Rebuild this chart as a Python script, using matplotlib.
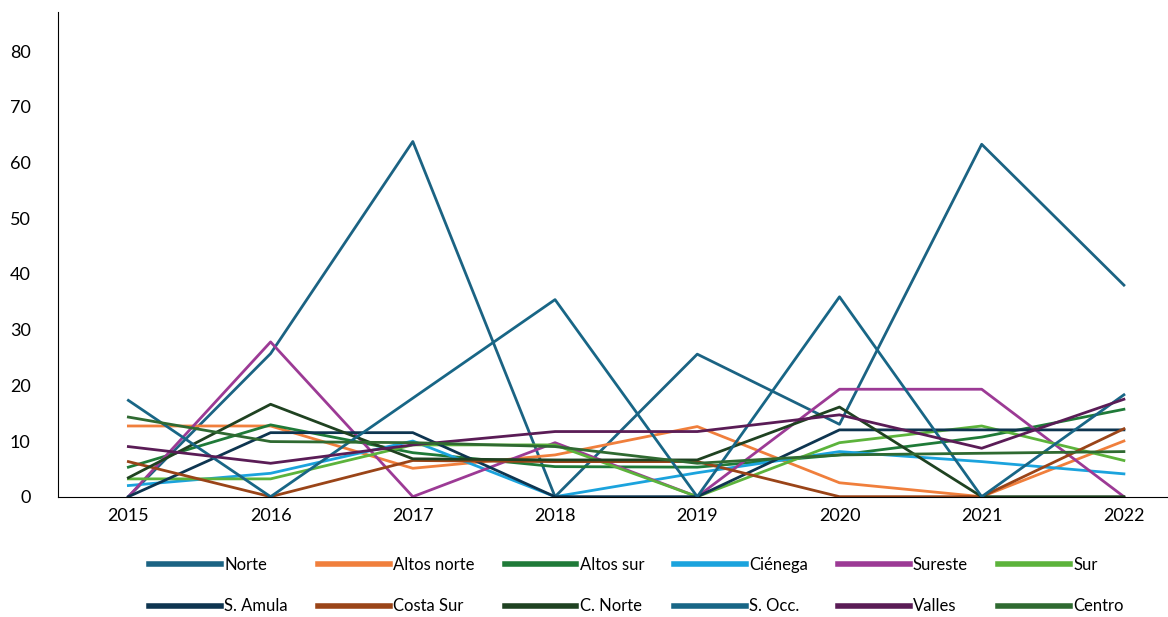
import matplotlib.pyplot as plt

years = [2015, 2016, 2017, 2018, 2019, 2020, 2021, 2022]

norte = [0, 25.7, 63.8, 0, 25.6, 13.0, 63.3, 38.0]
altos_norte = [12.7, 12.7, 5.1, 7.5, 12.6, 2.5, 0, 10.0]
altos_sur = [5.3, 12.9, 7.9, 5.4, 5.3, 7.5, 10.7, 15.7]
cienega = [2.0, 4.2, 10.0, 0, 4.3, 8.1, 6.3, 4.1]
sureste = [0, 27.8, 0, 9.7, 0, 19.3, 19.3, 0]
sur = [3.2, 3.2, 9.3, 9.3, 0, 9.7, 12.7, 6.5]
s_amula = [0, 11.5, 11.5, 0, 0, 12.0, 12.0, 12.0]
costa_sur = [6.3, 0, 6.5, 6.3, 6.3, 0, 0, 12.2]
c_norte = [3.4, 16.6, 6.8, 6.6, 6.6, 16.1, 0, 0]
s_occ = [17.3, 0, 17.7, 35.4, 0, 35.9, 0, 18.3]
valles = [9.0, 6.0, 9.3, 11.7, 11.7, 14.7, 8.7, 17.5]
centro = [14.3, 9.9, 9.7, 9.0, 6.0, 7.5, 7.8, 8.1]

series = [
    ("Norte", norte, "#1b6383"),
    ("Altos norte", altos_norte, "#f07f3c"),
    ("Altos sur", altos_sur, "#1f7a38"),
    ("Ciénega", cienega, "#1ba3dd"),
    ("Sureste", sureste, "#9c3a95"),
    ("Sur", sur, "#5cb33b"),
    ("S. Amula", s_amula, "#0e3550"),
    ("Costa Sur", costa_sur, "#9a4418"),
    ("C. Norte", c_norte, "#1f4221"),
    ("S. Occ.", s_occ, "#186686"),
    ("Valles", valles, "#5a1c56"),
    ("Centro", centro, "#2f6a31"),
]

plt.rcParams['font.family'] = ['Lato', 'DejaVu Sans']
fig = plt.figure(figsize=(11.68, 6.17), dpi=100)
ax = fig.add_axes([0.05, 0.195, 0.95, 0.785])

lines = []
for name, vals, col in series:
    ln, = ax.plot(years, vals, color=col, lw=2, label=name)
    lines.append(ln)

ax.set_xlim(2014.508, 2022.31)
ax.set_ylim(0, 87)
ax.set_yticks(range(0, 81, 10))
ax.set_xticks(years)
ax.tick_params(length=0, labelsize=13, pad=8)
ax.tick_params(axis='y', pad=20)
for s in ['top', 'right']:
    ax.spines[s].set_visible(False)

# legend is filled column by column, so reorder to get rows of 6
order = [0, 6, 1, 7, 2, 8, 3, 9, 4, 10, 5, 11]
leg = fig.legend([lines[i] for i in order], [series[i][0] for i in order],
                 loc='lower center', ncol=6, frameon=False, fontsize=12,
                 bbox_to_anchor=(0.545, -0.02), handlelength=4.3, columnspacing=1.8,
                 handletextpad=0.2, labelspacing=1.55)
for h in leg.get_lines():
    h.set_linewidth(4)
fig.savefig("out.png")
